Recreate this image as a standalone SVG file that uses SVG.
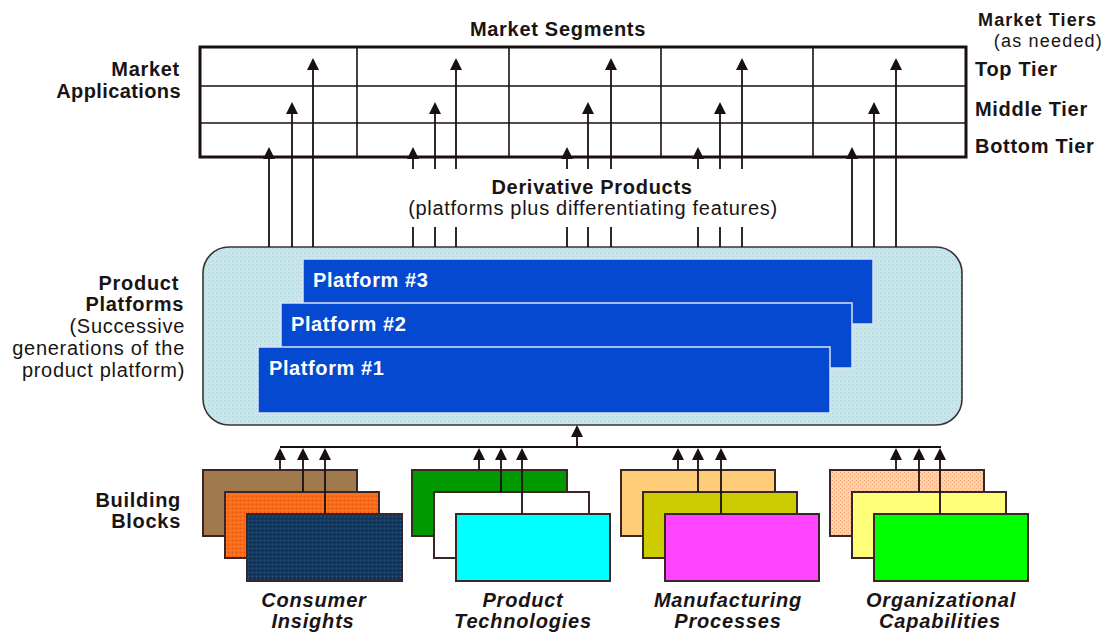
<svg xmlns="http://www.w3.org/2000/svg" width="1109" height="633" viewBox="0 0 1109 633">
<style>
text{font-family:"Liberation Sans",Arial,sans-serif;fill:#1a1414}
.b{font-size:20px;font-weight:bold;letter-spacing:0.7px}
.r{font-size:20px;letter-spacing:0.7px}
.bi{font-size:20px;font-weight:bold;font-style:italic;letter-spacing:0.8px}
.e{text-anchor:end}
.m{text-anchor:middle}
.pl{fill:#ffffff;font-size:20px;font-weight:bold;letter-spacing:0.6px}
.grid{stroke:#1a1010;stroke-width:1.6;fill:none}
.con{stroke:#1a1010;stroke-width:1.8;fill:none}
.arr{marker-end:url(#ah)}
.plat{fill:#0449d0;stroke:#d6e4fa;stroke-width:1.5}
.blk{stroke:#3a2626;stroke-width:2}
</style>
<defs>
<marker id="ah" viewBox="0 0 12 12" refX="9" refY="6" markerWidth="12" markerHeight="12" markerUnits="userSpaceOnUse" orient="auto">
<path d="M0,0 L12,6 L0,12 z" fill="#1a1010"/>
</marker>
<pattern id="pBox" width="4" height="4" patternUnits="userSpaceOnUse">
<rect width="4" height="4" fill="#cbe6e8"/>
<rect x="0" y="0" width="1" height="1" fill="#a9d0d6"/>
<rect x="2" y="2" width="1" height="1" fill="#b6d8dc"/>
</pattern>
<pattern id="pOrange" width="4" height="4" patternUnits="userSpaceOnUse">
<rect width="4" height="4" fill="#ff6a14"/>
<rect x="0" y="0" width="1" height="1" fill="#e0500a"/>
<rect x="2" y="2" width="1" height="1" fill="#ff8a40"/>
</pattern>
<pattern id="pNavy" width="4" height="4" patternUnits="userSpaceOnUse">
<rect width="4" height="4" fill="#133a62"/>
<rect x="0" y="0" width="1" height="1" fill="#2a5a86"/>
<rect x="2" y="2" width="1" height="1" fill="#0a2440"/>
</pattern>
<pattern id="pPeach" width="4" height="4" patternUnits="userSpaceOnUse">
<rect width="4" height="4" fill="#ffd0a8"/>
<rect x="0" y="0" width="1" height="1" fill="#f4a878"/>
<rect x="2" y="2" width="1" height="1" fill="#f4a878"/>
</pattern>
</defs>
<rect width="1109" height="633" fill="#ffffff"/>

<g id="market-applications">
<rect x="200" y="47" width="766" height="110" fill="#ffffff" stroke="#1a1010" stroke-width="3"/>
<line class="grid" x1="200" y1="86" x2="966" y2="86"/>
<line class="grid" x1="200" y1="123" x2="966" y2="123"/>
<line class="grid" x1="357" y1="47" x2="357" y2="157"/>
<line class="grid" x1="509" y1="47" x2="509" y2="157"/>
<line class="grid" x1="661" y1="47" x2="661" y2="157"/>
<line class="grid" x1="813" y1="47" x2="813" y2="157"/>
<text class="b m" x="558" y="36">Market Segments</text>
<text class="b e" x="180" y="76">Market</text>
<text class="b e" x="181" y="98" style="letter-spacing:0.4px">Applications</text>
</g>

<g id="market-tiers">
<text class="b e" x="1097" y="26" style="font-size:18px;letter-spacing:1.1px">Market Tiers</text>
<text class="r e" x="1103" y="47" style="font-size:18px;letter-spacing:1.2px">(as needed)</text>
<text class="b" x="975" y="76">Top Tier</text>
<text class="b" x="975" y="116">Middle Tier</text>
<text class="b" x="975" y="153">Bottom Tier</text>
</g>

<g id="derivative-products">
<text class="b m" x="592" y="194">Derivative Products</text>
<text class="r m" x="593" y="215">(platforms plus differentiating features)</text>
</g>

<g id="product-platforms">
<rect x="203" y="247" width="759" height="178" rx="26" ry="26" fill="url(#pBox)" stroke="#3a3434" stroke-width="1.6"/>
<text class="b e" x="179" y="290">Product</text>
<text class="b e" x="184" y="311">Platforms</text>
<text class="r e" x="185" y="333">(Successive</text>
<text class="r e" x="185" y="355">generations of the</text>
<text class="r e" x="185" y="377">product platform)</text>
</g>
<g id="platform-3">
<rect class="plat" x="303" y="259" width="570" height="65"/>
<text class="pl" x="313" y="287">Platform #3</text>
</g>
<g id="platform-2">
<rect class="plat" x="281" y="303" width="571" height="65"/>
<text class="pl" x="291" y="331">Platform #2</text>
</g>
<g id="platform-1">
<rect class="plat" x="258" y="347" width="572" height="66"/>
<text class="pl" x="269" y="375">Platform #1</text>
</g>

<g id="building-blocks-label">
<text class="b e" x="181" y="507">Building</text>
<text class="b e" x="181" y="528">Blocks</text>
</g>

<g id="consumer-insights">
<rect class="blk" x="203" y="470" width="154" height="66" fill="#a07a4c"/>
<rect class="blk" x="225" y="492" width="154" height="66" fill="url(#pOrange)"/>
<rect class="blk" x="247" y="514" width="155" height="67" fill="url(#pNavy)"/>
<text class="bi m" x="314" y="607">Consumer</text>
<text class="bi m" x="313" y="628">Insights</text>
</g>
<g id="product-technologies">
<rect class="blk" x="412" y="470" width="155" height="66" fill="#009a00"/>
<rect class="blk" x="434" y="492" width="155" height="66" fill="#ffffff"/>
<rect class="blk" x="456" y="514" width="154" height="67" fill="#00ffff"/>
<text class="bi m" x="523" y="607">Product</text>
<text class="bi m" x="523" y="628">Technologies</text>
</g>
<g id="manufacturing-processes">
<rect class="blk" x="621" y="470" width="154" height="66" fill="#ffcc78"/>
<rect class="blk" x="643" y="492" width="154" height="66" fill="#cccc00"/>
<rect class="blk" x="665" y="514" width="154" height="67" fill="#ff44ff"/>
<text class="bi m" x="728" y="607">Manufacturing</text>
<text class="bi m" x="728" y="628">Processes</text>
</g>
<g id="organizational-capabilities">
<rect class="blk" x="830" y="470" width="154" height="66" fill="url(#pPeach)"/>
<rect class="blk" x="852" y="492" width="154" height="66" fill="#ffff7a"/>
<rect class="blk" x="874" y="514" width="154" height="67" fill="#00ff00"/>
<text class="bi m" x="941" y="607">Organizational</text>
<text class="bi m" x="940" y="628">Capabilities</text>
</g>

<g id="connectors">
<line class="con arr" x1="269" y1="247" x2="269" y2="150"/>
<line class="con arr" x1="292" y1="247" x2="292" y2="105"/>
<line class="con arr" x1="313" y1="247" x2="313" y2="61"/>
<line class="con" x1="413" y1="247" x2="413" y2="227"/>
<line class="con" x1="435" y1="247" x2="435" y2="227"/>
<line class="con" x1="456" y1="247" x2="456" y2="227"/>
<line class="con arr" x1="413" y1="169" x2="413" y2="150"/>
<line class="con arr" x1="435" y1="169" x2="435" y2="105"/>
<line class="con arr" x1="456" y1="169" x2="456" y2="61"/>
<line class="con" x1="567" y1="247" x2="567" y2="227"/>
<line class="con" x1="588" y1="247" x2="588" y2="227"/>
<line class="con" x1="611" y1="247" x2="611" y2="227"/>
<line class="con arr" x1="567" y1="169" x2="567" y2="150"/>
<line class="con arr" x1="588" y1="169" x2="588" y2="105"/>
<line class="con arr" x1="611" y1="169" x2="611" y2="61"/>
<line class="con" x1="698" y1="247" x2="698" y2="227"/>
<line class="con" x1="720" y1="247" x2="720" y2="227"/>
<line class="con" x1="742" y1="247" x2="742" y2="227"/>
<line class="con arr" x1="698" y1="169" x2="698" y2="150"/>
<line class="con arr" x1="720" y1="169" x2="720" y2="105"/>
<line class="con arr" x1="742" y1="169" x2="742" y2="61"/>
<line class="con arr" x1="852" y1="247" x2="852" y2="150"/>
<line class="con arr" x1="874" y1="247" x2="874" y2="105"/>
<line class="con arr" x1="896" y1="247" x2="896" y2="61"/>
<line class="con" x1="280" y1="447" x2="941" y2="447"/>
<line class="con arr" x1="577" y1="447" x2="577" y2="428"/>
<line class="con arr" x1="280" y1="470" x2="280" y2="451"/>
<line class="con arr" x1="303" y1="492" x2="303" y2="451"/>
<line class="con arr" x1="325" y1="514" x2="325" y2="451"/>
<line class="con arr" x1="479" y1="470" x2="479" y2="451"/>
<line class="con arr" x1="501" y1="492" x2="501" y2="451"/>
<line class="con arr" x1="522" y1="514" x2="522" y2="451"/>
<line class="con arr" x1="678" y1="470" x2="678" y2="451"/>
<line class="con arr" x1="698" y1="492" x2="698" y2="451"/>
<line class="con arr" x1="721" y1="514" x2="721" y2="451"/>
<line class="con arr" x1="896" y1="470" x2="896" y2="451"/>
<line class="con arr" x1="919" y1="492" x2="919" y2="451"/>
<line class="con arr" x1="940" y1="514" x2="940" y2="451"/>
</g>
</svg>
